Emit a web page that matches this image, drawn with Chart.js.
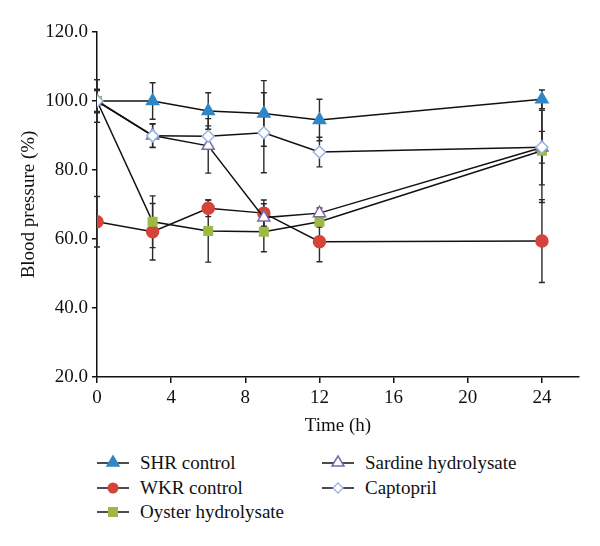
<!DOCTYPE html>
<html>
<head>
<meta charset="utf-8">
<script src="https://cdn.jsdelivr.net/npm/chart.js@4"></script>
<style>
    body { margin: 0; background: #fff; }
    #wrap { position: relative; width: 600px; height: 546px; }
    #chart { position: absolute; left: 0; top: 0; }
    .item { position: absolute; display: flex; align-items: center; height: 22px;
            font-family: "Liberation Serif", serif; font-size: 19px; color: #111; white-space: nowrap; }
    .item svg { margin-right: 11px; }
</style>
</head>
<body>
<div id="wrap">
    <canvas id="chart" width="600" height="440"></canvas>
    <div id="legend"></div>
</div>
<script>
// Time points (h)
const hours = [0, 3, 6, 9, 12, 24];

// Blood pressure (%) per group, with error bar half-widths
const shrValues = [100, 100, 97.1, 96.4, 94.5, 100.5];
const shrErrors = [6.2, 5.3, 5.3, 9.5, 6.0, 2.7];
const wkrValues = [65.0, 62.1, 68.9, 67.5, 59.2, 59.4];
const wkrErrors = [7.3, 8.2, 2.4, 3.8, 5.8, 12.0];
const oysterValues = [100, 65.0, 62.3, 62.1, 65.0, 85.6];
const oysterErrors = [3, 7.5, 9.0, 5.8, 1.5, 15];
const sardineValues = [100, 90.0, 87.0, 66.2, 67.5, 86.5];
const sardineErrors = [3.4, 3.4, 7.9, 4, 1.5, 10.8];
const captoprilValues = [100, 89.9, 89.8, 90.8, 85.2, 86.6];
const captoprilErrors = [6.2, 3.4, 3, 11.6, 4.3, 4.6];

const xTicks = [0, 4, 8, 12, 16, 20, 24];
const yTicks = [20, 40, 60, 80, 100, 120];

const serif = '"Liberation Serif", serif';

function series(label, values, errors, style) {
    return Object.assign({
        label: label,
        data: hours.map((h, i) => ({ x: h, y: values[i] })),
        errors: errors,
        borderColor: '#111',
        borderWidth: 1.5,
        pointBorderWidth: 1.5,
        tension: 0
    }, style);
}

// lower order is drawn on top
const datasets = [
    series('SHR control', shrValues, shrErrors, {
        order: 4, pointStyle: 'triangle', pointRadius: 7, pointBackgroundColor: '#2f86c6', pointBorderColor: '#2f86c6'
    }),
    series('WKR control', wkrValues, wkrErrors, {
        order: 3, pointStyle: 'circle', pointRadius: 6, pointBackgroundColor: '#d5443a', pointBorderColor: '#d5443a'
    }),
    series('Oyster hydrolysate', oysterValues, oysterErrors, {
        order: 2, pointStyle: 'rect', pointRadius: 6, pointBackgroundColor: '#9cba45', pointBorderColor: '#9cba45'
    }),
    series('Sardine hydrolysate', sardineValues, sardineErrors, {
        order: 1, pointStyle: 'triangle', pointRadius: 7, pointBackgroundColor: '#fff', pointBorderColor: '#7b69ab'
    }),
    series('Captopril', captoprilValues, captoprilErrors, {
        order: 0, pointStyle: 'rectRot', pointRadius: 6, pointBackgroundColor: '#fff', pointBorderColor: '#94b6de'
    })
];

// Error bars drawn under the lines and markers
const errorBars = {
    id: 'errorBars',
    beforeDatasetsDraw(chart) {
        const { ctx, scales: { x, y } } = chart;
        ctx.save();
        ctx.strokeStyle = '#2a2a2a';
        ctx.lineWidth = 1.4;
        chart.data.datasets.forEach(ds => {
            ds.data.forEach((pt, j) => {
                const e = ds.errors[j];
                const px = x.getPixelForValue(pt.x);
                const top = y.getPixelForValue(pt.y + e);
                const bot = y.getPixelForValue(pt.y - e);
                ctx.beginPath();
                ctx.moveTo(px, top); ctx.lineTo(px, bot);
                ctx.moveTo(px - 3, top); ctx.lineTo(px + 3, top);
                ctx.moveTo(px - 3, bot); ctx.lineTo(px + 3, bot);
                ctx.stroke();
            });
        });
        ctx.restore();
    }
};

new Chart(document.getElementById('chart'), {
    type: 'line',
    data: { datasets: datasets },
    plugins: [errorBars],
    options: {
        responsive: false,
        animation: false,
        devicePixelRatio: 1,
        layout: { padding: { top: 32, right: 21, left: 0, bottom: 0 } },
        plugins: { legend: { display: false }, tooltip: { enabled: false } },
        scales: {
            x: {
                type: 'linear',
                min: 0,
                max: 26,
                afterBuildTicks: s => { s.ticks = xTicks.map(v => ({ value: v })); },
                afterFit: s => { s.height = 63; },
                ticks: { color: '#111', font: { family: serif, size: 19 }, padding: 4, includeBounds: false },
                grid: { display: true, drawOnChartArea: false, drawTicks: true, tickLength: 6, color: '#111', lineWidth: 1.5 },
                border: { color: '#111', width: 1.5 },
                title: { display: true, text: 'Time (h)', color: '#111', font: { family: serif, size: 19 }, padding: { top: 6, bottom: 3 } }
            },
            y: {
                min: 20,
                max: 120,
                afterBuildTicks: s => { s.ticks = yTicks.map(v => ({ value: v })); },
                afterFit: s => { s.width = 97; },
                ticks: { color: '#111', font: { family: serif, size: 19 }, padding: 4, callback: v => v.toFixed(1) },
                grid: { display: true, drawOnChartArea: false, drawTicks: true, tickLength: 5, color: '#111', lineWidth: 1.5 },
                border: { color: '#111', width: 1.5 },
                title: { display: true, text: 'Blood pressure (%)', color: '#111', font: { family: serif, size: 19 }, padding: { top: 18, bottom: 0 } }
            }
        }
    }
});

// HTML legend in two columns
const legendPos = [[97, 452], [97, 477], [97, 501], [322, 452], [322, 477]];
const legend = document.getElementById('legend');
function marker(ds) {
    const f = ds.pointBackgroundColor, s = ds.pointBorderColor;
    switch (ds.pointStyle) {
        case 'triangle': return `<polygon points="16,4 22,14 10,14" fill="${f}" stroke="${s}" stroke-width="1.5"/>`;
        case 'circle': return `<circle cx="16" cy="11" r="5.5" fill="${f}"/>`;
        case 'rect': return `<rect x="11" y="6" width="10" height="10" fill="${f}"/>`;
        default: return `<polygon points="16,6 21,11 16,16 11,11" fill="${f}" stroke="${s}" stroke-width="1.3"/>`;
    }
}
datasets.forEach((ds, i) => {
    const div = document.createElement('div');
    div.className = 'item';
    div.style.left = legendPos[i][0] + 'px';
    div.style.top = legendPos[i][1] + 'px';
    div.innerHTML = `<svg width="32" height="22"><line x1="0" y1="11" x2="32" y2="11" stroke="#111" stroke-width="1.5"/>${marker(ds)}</svg><span>${ds.label}</span>`;
    legend.appendChild(div);
});
</script>
</body>
</html>
